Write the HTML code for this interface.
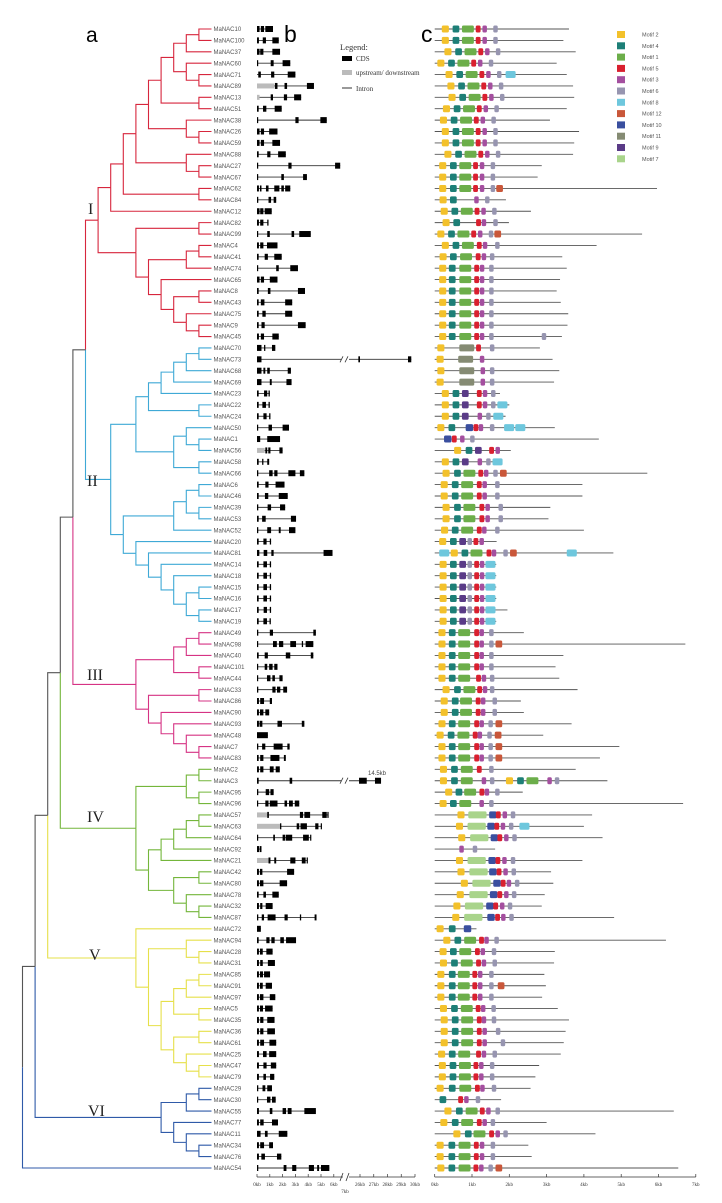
<!DOCTYPE html>
<html><head><meta charset="utf-8"><style>
html,body{margin:0;padding:0;background:#fff;}
svg{display:block;font-family:"Liberation Sans",sans-serif;}
</style></head><body>
<svg id="fig" width="722" height="1203" viewBox="0 0 722 1203" xmlns="http://www.w3.org/2000/svg">
<text x="86" y="42" font-size="21">a</text>
<text x="284" y="42" font-size="23">b</text>
<text x="421" y="42" font-size="23">c</text>
<g font-family="Liberation Serif,serif" font-size="7" fill="#333">
<text x="340" y="50" font-size="8.5">Legend:</text>
<rect x="342" y="56" width="10" height="5" fill="#000"/><text x="356" y="61">CDS</text>
<rect x="342" y="70" width="10" height="5" fill="#bbb"/><text x="356" y="75">upstream/ downstream</text>
<line x1="342" y1="88" x2="352" y2="88" stroke="#333"/><text x="356" y="91">Intron</text>
</g>
<g id="tree"></g>
<g id="labels"></g>
<g id="struct"></g>
<g id="motifs"></g>
<g id="mlegend"></g>
</svg>
<script>
const names = ["MaNAC10","MaNAC100","MaNAC37","MaNAC60","MaNAC71","MaNAC89","MaNAC13","MaNAC51","MaNAC38","MaNAC26","MaNAC59","MaNAC88","MaNAC27","MaNAC67","MaNAC62","MaNAC84","MaNAC12","MaNAC82","MaNAC99","MaNAC4","MaNAC41","MaNAC74","MaNAC65","MaNAC8","MaNAC43","MaNAC75","MaNAC9","MaNAC45",
"MaNAC70","MaNAC73","MaNAC68","MaNAC69","MaNAC23","MaNAC22","MaNAC24","MaNAC50","MaNAC1","MaNAC56","MaNAC58","MaNAC66","MaNAC6","MaNAC46","MaNAC39","MaNAC53","MaNAC52","MaNAC20","MaNAC81","MaNAC14","MaNAC18","MaNAC15","MaNAC16","MaNAC17","MaNAC19",
"MaNAC49","MaNAC98","MaNAC40","MaNAC101","MaNAC44","MaNAC33","MaNAC86","MaNAC90","MaNAC93","MaNAC48","MaNAC7","MaNAC83",
"MaNAC2","MaNAC3","MaNAC95","MaNAC96","MaNAC57","MaNAC63","MaNAC64","MaNAC92","MaNAC21","MaNAC42","MaNAC80","MaNAC78","MaNAC32","MaNAC87",
"MaNAC72","MaNAC94","MaNAC28","MaNAC31","MaNAC85","MaNAC91","MaNAC97","MaNAC5","MaNAC35","MaNAC36","MaNAC61","MaNAC25","MaNAC47","MaNAC79",
"MaNAC29","MaNAC30","MaNAC55","MaNAC77","MaNAC11","MaNAC34","MaNAC76","MaNAC54"];
const cladeI = [[[[[[[[[0,1],2],[3,[4,5]]],[6,7]],[8,[9,10]]],[11,[12,13]]],[14,15]],16],[[17,18],[[[19,20],21],[22,[[23,24],[25,[26,27]]]]]]];
const cladeII = [[[[[[[28,29],30],31],32],[33,34]],[[35,[36,37]],[38,39]]],[[[[40,41],[42,43]],44],[45,[46,[47,[48,[[49,50],[51,52]]]]]]]];
const cladeIII = [[[[53,54],55],[56,57]],[[58,59],[60,[61,[62,[63,64]]]]]];
const cladeIV = [[[65,66],[67,68]],[[[[[69,70],71],72],73],[[74,75],[76,[77,78]]]]];
const cladeV = [79,[[80,[81,82]],[[[[83,84],85],[86,87]],[[88,89],[90,[91,92]]]]]];
const cladeVI = [[[93,94],95],[96,[97,[98,99]]]];
const cladeColors = ["#d7263d","#3fa9d6","#d63384","#74b63b","#e6e04a","#2f5aa8"];
const cladeNames = ["I","II","III","IV","V","VI"];
const exons = ["0-.2,.3-.55,.65-1.25","0-.15,.45-.7,1.2-1.7","0-.2,.25-.5,1.2-1.8","0-.08,1.07-1.3,2-2.6","0.1-.3,1.1-1.35,2.4-3","1.4-1.6,2.15-2.35,3.9-4.45","1.07-1.25,2.1-2.35,2.9-3.45","0-.13,.47-.73,1.38-1.93","0-.08,3-3.25,4.95-5.45","0-.2,.3-.55,.95-1.6","0-.2,.3-.55,1.2-1.8","0-.13,.8-1.05,1.65-2.25","0-.08,2.45-2.7,6.1-6.5","0-.08,1.9-2.1,3.6-3.9","0-.15,.23-.35,.7-.9,1.35-1.75,1.9-2.1,2.2-2.6","0-.1,.9-1.1,1.3-1.5","0-.2,.25-.5,.6-1.15","0-.15,.25-.5,.8-.9","0-.08,.8-1,2.7-2.9,3.3-4.2","0-.15,.25-.5,.78-1.6","0-.13,.6-.85,1.35-1.93","0-.08,1.5-1.7,2.6-3.2","0-.2,.3-.55,1-1.6","0-.13,.85-1.05,3.2-3.75","0-.13,.3-.58,2.2-2.75","0-.13,.42-.68,2.2-2.75","0-.13,.35-.6,3.2-3.8","0-.15,.3-.55,1.2-1.7",
"0-.35,.55-.65,1.17-1.43","0-.35,25.88-26,29.49-29.73","0-.35,.5-.65,.8-1,2.4-2.65","0-.35,1-1.15,2.3-2.7","0-.13,.55-.8,.9-1","0-.13,.42-.7,.9-1","0-.13,.5-.75,.95-1.05","0-.08,.9-1.17,2-2.5","0-.25,.8-1.8","0.65-.8,.88-1.05,1.75-2","0-.13,.4-.5,.8-.95","0-.1,.95-1.22,1.35-1.6,2.45-3,3.35-3.7","0-.13,.65-.9,1.45-2.15","0-.13,.62-.88,1.7-2.4","0-.1,.83-1.1,1.8-2.2","0-.13,.4-.68,2.65-3.05","0-.1,.8-1.1,1.7-1.85,2.5-3","0-.13,.5-.75,1-1.1","0-.18,.52-.8,1.12-1.3,5.2-5.9","0-.13,.5-.78,1-1.1","0-.13,.5-.78,1-1.1","0-.13,.5-.78,1-1.1","0-.13,.5-.78,1-1.1","0-.13,.52-.78,1-1.1","0-.13,.5-.78,.98-1.08",
"0-.1,1-1.25,4.4-4.6","0-.08,1.25-1.55,1.72-2.05,2.6-3.05,3.5-3.6,3.8-4.4","0-.13,.6-.85,2.25-2.6,4.2-4.4","0-.08,.6-.8,.95-1.22,1.35-1.6","0-.08,.78-1.05,1.2-1.4,1.75-2","0-.1,1.2-1.45,1.56-1.82,2.05-2.35","0-.15,.25-.55,1-1.17","0-.15,.23-.5,.65-.95","0-.15,.2-.42,1.6-1.95,3.5-3.7","0-.85","0-.1,.4-.65,1.3-2,2.37-2.55","0-.13,.25-.5,1.05-1.75,2.1-2.25",
"0-.15,.25-.5,1-1.3,1.46-1.78","0-.13,2.55-2.75,25.93-26.49,27.09-27.53","0-.1,.68-.95,1.05-1.3","0-.08,.65-.9,1-1.6,2.15-2.35,2.5-2.8,2.95-3.3","0.8-.93,3.35-3.6,3.7-4.15,5.1-5.45,5.5-5.55","1.8-1.9,3.1-3.3,3.4-3.9,4.55-4.8,4.98-5.05","0-.03,1.27-1.4,2-2.2,2.25-2.75,3.6-4.05,4.15-4.2","0-.17,.22-.35","0.9-1.05,1.35-1.5,2.6-3,3.5-3.8,3.88-3.95","0-.15,.23-.42,2.35-2.9","0-.15,.23-.5,1.77-2.35","0-.13,.5-.7,1.2-1.7","0-.15,.25-.42,.68-1.22","0-.1,.37-.55,.83-1.45,2.15-2.4,3.35-3.45,4.5-4.65",
"0-.3","0-.13,.73-.98,1.12-1.38,1.82-2.1,2.27-3.05","0-.15,.23-.45,.73-1.22","0-.15,.25-.45,.85-1.4","0-.15,.23-.47,.55-1.02","0-.15,.23-.45,.68-1.17","0-.15,.23-.5,1-1.43","0-.15,.23-.47,.63-1.22","0-.15,.25-.5,.8-1.37","0-.15,.25-.5,.8-1.4","0-.15,.25-.55,.97-1.5","0-.15,.47-.75,.95-1.5","0-.15,.5-.75,1.08-1.5","0-.15,.5-.7,1.02-1.35",
"0-.1,.43-.65,.8-1.17","0-.03,.78-1.05,1.17-1.46","0-.15,1-1.2,2-2.27,2.4-2.7,3.7-4.6","0-.15,.25-.52,1.17-1.64","0-.28,.62-.83,1.7-2.37","0-.15,.25-.55,.95-1.25","0-.15,.34-.62,1.56-1.9","0-.1,2.08-2.3,2.75-3.07,4.05-4.45,4.7-4.85,5-5.65"];
const upstreamKb = {5:1.35,6:0.2,37:0.6,69:0.8,70:1.8,73:0.9};
const structTicks = ["0kb","1kb","2kb","3kb","4kb","5kb","6kb"];
const structTicks2 = ["26kb","27kb","28kb","29kb","30kb"];
const proteinLen = [3.6,3.45,3.78,3.27,3.54,3.71,3.74,3.54,3.09,3.87,3.74,3.71,2.87,2.76,5.96,1.91,2.58,1.99,5.56,4.34,3.42,3.54,3.36,3.27,3.38,3.58,3.56,3.41,
2.82,3.16,3.34,3.2,1.75,2.0,1.9,3.22,4.4,2.04,1.8,5.7,3.96,3.96,3.1,3.05,4.0,1.66,4.79,1.65,1.65,1.65,1.65,1.95,1.65,
2.39,6.72,3.45,3.24,3.34,3.83,2.31,2.39,3.67,2.91,4.95,4.43,
3.78,4.63,2.36,6.66,4.22,4.0,4.5,1.62,3.96,3.12,3.18,2.95,2.87,4.81,
1.12,6.2,3.22,3.2,2.94,2.98,2.88,3.3,3.6,3.51,3.46,3.38,2.8,2.7,
2.57,1.78,6.41,3.0,4.31,2.51,2.6,6.53];
const motifSites = ["2 .19,4 .48,1 .73,5 1.10,3 1.28,6 1.57","2 .19,4 .48,1 .73,5 1.10,3 1.28,6 1.57","2 .26,4 .55,1 .80,5 1.17,3 1.35,6 1.64","2 .07,4 .36,1 .61,5 .98,3 1.16,6 1.45","2 .29,4 .58,1 .83,5 1.2,3 1.38,6 1.67,8 1.9","2 .34,4 .63,1 .88,5 1.25,3 1.43,6 1.72","2 .37,4 .66,1 .91,5 1.28,3 1.46,6 1.75","2 .22,4 .51,1 .76,5 1.13,3 1.31,6 1.6","2 .14,4 .43,1 .68,5 1.05,3 1.23,6 1.52","2 .19,4 .48,1 .73,5 1.10,3 1.28,6 1.57","2 .19,4 .48,1 .73,5 1.10,3 1.28,6 1.57","2 .26,4 .55,1 .80,5 1.17,3 1.35,6 1.64","2 .12,4 .41,1 .66,5 1.03,3 1.21,6 1.5","2 .12,4 .41,1 .66,5 1.03,3 1.21,6 1.5","2 .12,4 .41,1 .66,5 1.03,3 1.21,6 1.5,12 1.65","2 .13,4 .41,3 1.06,6 1.35","2 .16,4 .45,1 .70,5 1.07,3 1.25,6 1.54","2 .21,4 .5,5 1.11,3 1.26,6 1.57","2 .07,4 .36,1 .61,5 .98,3 1.16,6 1.45,12 1.6","2 .19,4 .48,1 .73,5 1.13,3 1.29,6 1.62","2 .13,4 .41,1 .68,5 1.1,3 1.26,6 1.48","2 .12,4 .38,1 .66,5 1.06,3 1.21,6 1.46","2 .12,4 .38,1 .66,5 1.06,3 1.21,6 1.46","2 .12,4 .38,1 .66,5 1.06,3 1.21,6 1.46","2 .12,4 .38,1 .66,5 1.06,3 1.21,6 1.46","2 .12,4 .38,1 .66,5 1.06,3 1.21,6 1.46","2 .12,4 .38,1 .66,5 1.06,3 1.21,6 1.46","2 .12,4 .38,1 .66,5 1.06,3 1.21,6 1.46,6 2.87",
"2 .07,11 .66,5 1.11,6 1.48","2 .05,11 .63,3 1.21","2 .07,11 .66,3 1.23,6 1.48","2 .05,11 .66,3 1.23,6 1.48","2 .19,4 .48,9 .73,5 1.13,3 1.29,6 1.51","2 .19,4 .48,9 .73,5 1.13,3 1.29,6 1.51,8 1.68","2 .19,4 .48,9 .73,3 1.15,6 1.38,8 1.57","2 .07,4 .37,10 .83,5 1.04,3 1.18,6 1.48,8 1.86,8 2.16","10 .25,5 .46,3 .68,6 .95","2 .52,4 .83,9 1.08,5 1.46,3 1.63","2 .19,4 .48,9 .73,3 1.15,6 1.38,8 1.55","2 .21,4 .52,1 .77,5 1.17,3 1.32,6 1.57,12 1.75","2 .16,4 .46,1 .71,5 1.13,3 1.28,6 1.62","2 .16,4 .46,1 .71,5 1.13,3 1.28,6 1.62","2 .21,4 .52,1 .77,5 1.2,3 1.36,6 1.71","2 .21,4 .52,1 .77,5 1.2,3 1.36,6 1.71","2 .17,4 .46,1 .71,5 1.13,3 1.27,6 1.62","2 .12,4 .41,9 .66,6 .88,5 1.04,3 1.2","8 .12,2 .43,4 .72,1 .96,5 1.39,3 1.53,6 1.84,12 2.02,8 3.54","2 .13,4 .41,9 .66,6 .88,5 1.06,3 1.21,8 1.36","2 .13,4 .41,9 .66,6 .88,5 1.06,3 1.21,8 1.36","2 .13,4 .41,9 .66,6 .88,5 1.06,3 1.21,8 1.36","2 .13,4 .41,9 .66,6 .88,5 1.06,3 1.21,8 1.36","2 .13,4 .41,9 .66,6 .88,5 1.06,3 1.21,8 1.36","2 .13,4 .41,9 .66,6 .88,5 1.06,3 1.21,8 1.36",
"2 .1,4 .38,1 .63,5 1.06,3 1.2,6 1.46","2 .1,4 .38,1 .63,5 1.06,3 1.2,6 1.46,12 1.63","2 .1,4 .38,1 .63,5 1.06,3 1.2,6 1.46","2 .1,4 .38,1 .63,5 1.06,3 1.2,6 1.46","2 .1,4 .38,1 .63,5 1.11,3 1.26,6 1.48","2 .21,4 .52,1 .77,5 1.14,3 1.29,6 1.48","2 .16,4 .46,1 .68,5 1.1,3 1.24,6 1.55","2 .16,4 .46,1 .68,5 1.1,3 1.24,6 1.55","2 .1,4 .38,1 .63,5 1.06,3 1.2,6 1.44,12 1.63","2 .05,4 .35,1 .61,5 1.02,3 1.15,6 1.41,12 1.61","2 .1,4 .38,1 .63,5 1.06,3 1.2,6 1.44,12 1.63","2 .1,4 .38,1 .63,5 1.06,3 1.2,6 1.44,12 1.63",
"2 .14,4 .44,1 .7,5 1.13,6 1.46","2 .14,4 .44,1 .7,3 1.26,6 1.48,2 1.91,4 2.21,1 2.46,3 3.02,6 3.22","2 .28,4 .56,1 .79,5 1.2,3 1.34,6 1.62","2 .13,4 .41,1 .66,3 1.2,6 1.46","2 .61,7 .9,10 1.46,5 1.64,3 1.82,6 2.04","2 .57,7 .88,10 1.41,5 1.6,3 1.77,6 1.99,8 2.27","2 .63,7 .95,10 1.5,5 1.68,3 1.86,6 2.08","3 .66,6 1.02","2 .57,7 .88,10 1.44,5 1.63,3 1.81,6 2.04","2 .61,7 .93,10 1.46,5 1.66,3 1.84,6 2.06","2 .7,7 1.01,10 1.57,5 1.77,3 1.93,6 2.15","2 .59,7 .93,10 1.48,5 1.68,3 1.86,6 2.07","2 .5,7 .81,10 1.38,5 1.57,3 1.75,6 1.96","2 .47,7 .79,10 1.41,5 1.62,3 1.78,6 2.0",
"2 .05,4 .38,10 .78","2 .23,4 .53,1 .79,5 1.19,3 1.33,6 1.6","2 .13,4 .41,1 .66,5 1.08,3 1.23,6 1.53","2 .14,4 .44,1 .7,5 1.11,3 1.26,6 1.55","2 .07,4 .38,1 .62,5 1.01,3 1.16,6 1.46","2 .07,4 .38,1 .62,5 1.01,3 1.16,6 1.46,12 1.69","2 .07,4 .38,1 .62,5 1.01,3 1.16,6 1.46","2 .14,4 .44,1 .7,5 1.1,3 1.24,6 1.52","2 .16,4 .46,1 .71,5 1.13,3 1.26,6 1.53","2 .16,4 .46,1 .71,5 1.13,3 1.28,6 1.64","2 .16,4 .46,1 .71,5 1.13,3 1.28,6 1.77","2 .09,4 .38,1 .63,5 1.11,3 1.26,6 1.55","2 .11,4 .4,1 .65,5 1.04,3 1.19,6 1.48","2 .11,4 .4,1 .65,5 1.04,3 1.19,6 1.48",
"2 .05,4 .38,1 .66,5 1.08,3 1.22,6 1.53","4 .13,5 .63,3 .79,6 1.1","2 .26,4 .57,1 .83,5 1.21,3 1.38,6 1.63","2 .15,4 .46,1 .71,5 1.13,3 1.28,6 1.5","2 .5,4 .81,1 1.04,5 1.46,3 1.63,6 1.84","2 .05,4 .37,1 .64,5 1.05,3 1.21,6 1.5","2 .05,4 .37,1 .64,5 1.05,3 1.21,6 1.5","2 .07,4 .37,1 .64,5 1.04,3 1.19,6 1.44,12 1.63"];
const motifOrder = ["2","4","1","5","3","6","8","12","10","11","9","7"];
const motifColors = {"2":"#f3c12b","4":"#1d7f77","1":"#6cae4a","5":"#d9202f","3":"#a44f9f","6":"#9795b0","8":"#6ec7dd","12":"#c9573a","10":"#3a4f9f","11":"#858b73","9":"#5a3b87","7":"#a9d48b"};
const motifWidthKb = {"2":.19,"4":.18,"1":.32,"5":.13,"3":.12,"6":.12,"8":.27,"12":.18,"10":.2,"11":.4,"9":.18,"7":.49};
const motifTicks = ["0kb","1kb","2kb","3kb","4kb","5kb","6kb","7kb"];

const NS="http://www.w3.org/2000/svg";
function mk(tag, attrs, parent){const e=document.createElementNS(NS,tag);for(const k in attrs)e.setAttribute(k,attrs[k]);parent.appendChild(e);return e;}
const rowY = i => 29 + 11.39*i;
const hx = h => 211.5 - 12.6*h;

/* ---------- tree ---------- */
const tree=document.getElementById('tree');
const leafClade={};
[cladeI,cladeII,cladeIII,cladeIV,cladeV,cladeVI].forEach((c,ci)=>{(function walk(n){if(Array.isArray(n))n.forEach(walk);else leafClade[n]=ci;})(c);});
leafClade[100]=5;
const root=[[[[[[cladeI,cladeII],cladeIII],cladeIV],cladeV],cladeVI],100];
function layout(n){
  if(!Array.isArray(n)){const c=leafClade[n];return {h:0,y:rowY(n),clade:c};}
  const kids=n.map(layout);
  const h=Math.max(...kids.map(k=>k.h))+1;
  const ys=kids.map(k=>k.y);
  const y=(Math.min(...ys)+Math.max(...ys))/2;
  const cl=kids.every(k=>k.clade===kids[0].clade)?kids[0].clade:-1;
  const x=hx(h);
  kids.forEach(k=>{
    const col=k.clade>=0?cladeColors[k.clade]:'#555';
    const kx=k.h===0?211.5:hx(k.h);
    const p=mk('path',{d:`M${x},${y}V${k.y}H${kx}`,fill:'none',stroke:col,'stroke-width':1.1},tree);
    
    
  });
  return {h,y,clade:cl};
}
layout(root);
const cladeLabelPos=[[88,214],[87,486],[87,680],[87,822],[89,960],[88,1116]];
cladeNames.forEach((t,i)=>{
  const e=mk('text',{x:cladeLabelPos[i][0],y:cladeLabelPos[i][1],'font-size':16,'font-family':'Liberation Serif,serif',fill:'#222'},tree);
  e.textContent=t;
  
  
});

/* ---------- labels ---------- */
const lab=document.getElementById('labels');
names.forEach((n,i)=>{
  const t=mk('text',{x:213.5,y:rowY(i)+2.2,'font-size':6,fill:'#555'},lab);
  t.textContent=n;
  
  
});

/* ---------- gene structure ---------- */
const st=document.getElementById('struct');
const bx = kb => kb<=7 ? 257+12.8*kb : 360+13.75*(kb-26);
exons.forEach((s,i)=>{
  const y=rowY(i);
  const ex=s.split(',').map(p=>p.split('-').map(Number));
  const end=Math.max(...ex.map(e=>e[1]));
  const l=mk('line',{x1:bx(0),x2:bx(end),y1:y,y2:y,stroke:'#333','stroke-width':0.9},st);
  
  
  if(upstreamKb[i]!==undefined){
    const u=mk('rect',{x:bx(0),y:y-2.5,width:bx(upstreamKb[i])-bx(0),height:5,fill:'#bbb'},st);
    
    
  }
  ex.forEach(e=>{
    const r=mk('rect',{x:bx(e[0]),y:y-3,width:Math.max(1.2,bx(e[1])-bx(e[0])),height:6,fill:'#000'},st);
    
    
  });
  if(end>7){
    mk('rect',{x:341,y:y-4,width:8,height:8,fill:'#fff'},st);
    const b=mk('path',{d:`M340,${y+3}L343,${y-3}M345,${y+3}L348,${y-3}`,stroke:'#333','stroke-width':0.8},st);
    
    
  }
});
const t3=mk('text',{x:368,y:775,'font-size':6,fill:'#444'},st);
t3.textContent='14.5kb';


const axY=1177;
const ax1=mk('path',{d:`M257,${axY}H343M349,${axY}H415`,stroke:'#333','stroke-width':0.8},st);


const ab=mk('path',{d:`M340,${axY+4}L343,${axY-4}M346,${axY+4}L349,${axY-4}`,stroke:'#333','stroke-width':0.8},st);


structTicks.forEach((t,k)=>{
  mk('line',{x1:bx(k),x2:bx(k),y1:axY,y2:axY-3,stroke:'#333','stroke-width':0.7},st);
  const e=mk('text',{x:bx(k),y:axY+9,'font-size':5,'text-anchor':'middle','font-family':'Liberation Serif,serif',fill:'#333'},st);
  e.textContent=t;
  
  
});
structTicks2.forEach((t,k)=>{
  const x=bx(26+k);
  mk('line',{x1:x,x2:x,y1:axY,y2:axY-3,stroke:'#333','stroke-width':0.7},st);
  const e=mk('text',{x:x,y:axY+9,'font-size':5,'text-anchor':'middle','font-family':'Liberation Serif,serif',fill:'#333'},st);
  e.textContent=t;
  
  
});
const t7=mk('text',{x:345,y:axY+16,'font-size':5,'text-anchor':'middle','font-family':'Liberation Serif,serif',fill:'#333'},st);
t7.textContent='7kb';



/* ---------- motifs ---------- */
const mo=document.getElementById('motifs');
const mx = kb => 434.7 + 37.3*kb;
proteinLen.forEach((len,i)=>{
  const y=rowY(i);
  const l=mk('line',{x1:mx(0),x2:mx(len),y1:y,y2:y,stroke:'#555','stroke-width':0.9},mo);
  
  
  motifSites[i].split(',').forEach(p=>{
    const [m,s]=p.trim().split(' ');
    const r=mk('rect',{x:mx(+s),y:y-3.5,width:motifWidthKb[m]*37.3,height:7,rx:1.5,fill:motifColors[m]},mo);
    
    
  });
});
const ax2=mk('line',{x1:mx(0),x2:mx(7),y1:axY,y2:axY,stroke:'#333','stroke-width':0.8},mo);


motifTicks.forEach((t,k)=>{
  mk('line',{x1:mx(k),x2:mx(k),y1:axY,y2:axY-3,stroke:'#333','stroke-width':0.7},mo);
  const e=mk('text',{x:mx(k),y:axY+9,'font-size':5,'text-anchor':'middle','font-family':'Liberation Serif,serif',fill:'#333'},mo);
  e.textContent=t;
  
  
});
const ml=document.getElementById('mlegend');
motifOrder.forEach((m,k)=>{
  const y=31+11.3*k;
  const r=mk('rect',{x:617,y:y,width:8,height:7,fill:motifColors[m]},ml);
  
  
  const t=mk('text',{x:642,y:y+5.5,'font-size':5.5,fill:'#555'},ml);
  t.textContent='Motif '+m;
  
  
});
</script>
</body></html>
